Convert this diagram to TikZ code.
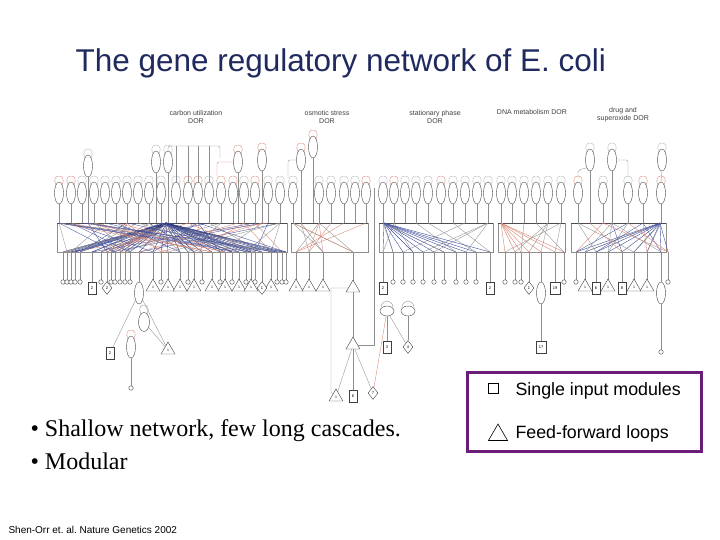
\documentclass[tikz,border=0pt]{standalone}
\usepackage{fontspec}
\setmainfont{Liberation Sans}
\newfontfamily\timesfont{Liberation Serif}
\usetikzlibrary{positioning, shapes.geometric, calc}
\definecolor{netGray}{HTML}{8E8E8E}
\definecolor{netRed}{HTML}{D9826E}
\definecolor{netBlue}{HTML}{404E9E}
\definecolor{keyPurple}{HTML}{6A1C78}
\definecolor{titleNavy}{HTML}{202A5E}
\colorlet{wc0}{netGray}
\colorlet{wc1}{netRed}
\colorlet{wc2}{netBlue}
\colorlet{lc0}{netGray!70}
\colorlet{lc1}{netGray!70}
\colorlet{lc2}{netRed}
% top genes and targets of each module
\def\cuTop{59,71,82,94,105,116,127,138,149,161,176,188,198,209,221,233,244,255,268,280}
\def\cuTopA{{59,71,82,94,105,116,127,138,149,161,176,188,198,209,221,233,244,255,268,280,88,156,168,238,262}}
\def\cuBot{63,67,71,75,80,92,101,107,111,115,120,125,130,139,153,161,168,180,188,194,202,212,220,225,232,239,246,251,255,262,271,277,282,286}
\def\osTop{293,319,331,344,355,366}
\def\osTopA{{293,301,313,319,331,344,355,366}}
\def\osBot{296,309,323,353}
\def\stTop{383,394,405,416,428,441,453,465,477,488}
\def\stTopA{{383,394,405,416,428,441,453,465,477,488}}
\def\stBot{383,393,403,413,423,434,444,456,466,476,490}
\def\dnTop{501,512,524,536,548,561}
\def\dnTopA{{501,512,524,536,548,561}}
\def\dnBot{505,515,521,529,541,555,564}
\def\drTop{578,603,628,643,661}
\def\drTopA{{578,590,603,612,628,643,661}}
\def\drBot{576,585,596,608,622,634,647,661,668}
\edef\allTop{\cuTop,\osTop,\stTop,\dnTop,\drTop}
\edef\allBot{\cuBot,\osBot,\stBot,\dnBot,\drBot}
\newcommand{\selfloop}[3]{\draw[line width=0.35pt, #3] (#1-3,#2-8) .. controls (#1-9,#2-20) and (#1+9,#2-20) .. (#1+3,#2-8);}

\begin{document}
\frenchspacing
\begin{tikzpicture}[x=1pt, y=-1pt,
  wire/.style={netGray, line width=0.35pt},
  hub/.style={line width=0.4pt},
  dorbox/.style={draw=netGray, line width=0.5pt},
  gene/.style={draw=black!75, ellipse, fill=white, inner sep=0pt, line width=0.4pt, minimum width=9pt, minimum height=22pt},
  dot/.style={draw=black!75, circle, fill=white, inner sep=0pt, line width=0.4pt, minimum size=4.5pt},
  ffl/.style={draw=black!75, regular polygon, regular polygon sides=3, fill=white, inner sep=0pt, line width=0.4pt, minimum size=16pt, font=\fontsize{3.5}{4}\selectfont},
  sim/.style={draw=black!75, rectangle, fill=white, inner sep=0pt, line width=0.4pt, minimum width=8pt, minimum height=12pt, font=\fontsize{4}{5}\selectfont},
  bif/.style={draw=black!75, diamond, fill=white, inner sep=0pt, line width=0.4pt, minimum width=10pt, minimum height=13pt, font=\fontsize{4}{5}\selectfont},
  hdr/.style={font=\fontsize{7}{8}\selectfont, text=black!75, align=center}
]
\useasboundingbox (0,0) rectangle (720,540);
\pgfmathsetseed{7}

% title
\node[anchor=base west, font=\fontsize{31.5}{36}\selectfont, text=titleNavy] (title) at (72,72) {The gene regulatory network of E. coli};

% module headers
\node[hdr] (hCarbon) at (196,117) {carbon utilization\\DOR};
\node[hdr] (hOsmo) at (327,117) {osmotic stress\\DOR};
\node[hdr] (hStat) at (435,117) {stationary phase\\DOR};
\node[hdr] (hDna) at (532,112) {DNA metabolism DOR};
\node[hdr] (hDrug) at (623,115) {drug and\\superoxide DOR};

% DOR boxes
\foreach \xa/\xb in {57/287,291/368,379/493,498/565,571/666} {
  \draw[dorbox] (\xa,223) rectangle (\xb,252);
  \draw[black!70, line width=0.5pt] (\xa,223) -- (\xb,223);
}

% wiring inside the boxes
\foreach \b in \cuBot {
  \draw[hub, netBlue!80!black] (166,223) -- (\b,252);
  \foreach \k in {1,2} {
    \pgfmathrandominteger{\ri}{0}{24}
    \pgfmathrandominteger{\ci}{0}{2}
    \pgfmathsetmacro{\tx}{\cuTopA[\ri]}
    \draw[wire, wc\ci] (\tx,223) -- (\b,252);
  }
}
\foreach \b in \osBot {
  \foreach \k in {1,2,3} {
    \pgfmathrandominteger{\ri}{0}{7}
    \pgfmathrandominteger{\ci}{0}{1}
    \pgfmathsetmacro{\tx}{\osTopA[\ri]}
    \draw[wire, wc\ci] (\tx,223) -- (\b,252);
  }
}
\foreach \b in \stBot {
  \draw[hub, netBlue] (384,223) -- (\b,252);
  \pgfmathrandominteger{\ri}{0}{9}
  \pgfmathsetmacro{\tx}{\stTopA[\ri]}
  \draw[wire] (\tx,223) -- (\b,252);
}
\foreach \b in \dnBot {
  \draw[hub, netRed] (501,223) -- (\b,252);
  \pgfmathrandominteger{\ri}{0}{5}
  \pgfmathsetmacro{\tx}{\dnTopA[\ri]}
  \draw[wire] (\tx,223) -- (\b,252);
}
\foreach \b in \drBot {
  \draw[hub, netBlue] (660,223) -- (\b,252);
  \foreach \k in {1,2} {
    \pgfmathrandominteger{\ri}{0}{6}
    \pgfmathrandominteger{\ci}{0}{2}
    \pgfmathsetmacro{\tx}{\drTopA[\ri]}
    \draw[wire, wc\ci] (\tx,223) -- (\b,252);
  }
}

% regulators on top
\foreach \x in \allTop {
  \pgfmathrandominteger{\ci}{0}{2}
  \draw[wire] (\x,204) -- (\x,223);
  \node[gene] (g\x) at (\x,193) {};
  \selfloop{\x}{193}{lc\ci}
}
\foreach \x/\y in {88/166,156/162,168/162,238/162,262/160,301/160,313/147,590/160,612/160,662/160} {
  \pgfmathrandominteger{\ci}{0}{2}
  \node[gene] (g\x) at (\x,\y) {};
  \selfloop{\x}{\y}{lc\ci}
}
\foreach \x in {88,156,168,238,262,301,313,590,612}
  \draw[wire] (g\x.south) -- (\x,223);
\draw[wire, rounded corners=2pt] (g168.north) -- (168,146) -- (220,146) -- (220,158);
\foreach \x in {176,188,198,209}
  \draw[wire] (\x,146) -- (g\x.north);
\draw[wire, netRed, rounded corners=2pt] (g238.west) -- (217,162) -- (217,176);
\draw[wire, rounded corners=2pt] (g301.west) -- (288,160) -- (288,178);
\draw[wire, rounded corners=2pt] (g590.south west) -- (578,170) -- (578,178);
\draw[wire, rounded corners=2pt] (g612.east) -- (628,160) -- (628,178);
\draw[wire] (g662.south) -- (g661.north);

% targets below the boxes
\foreach \b in \allBot
  \draw[wire] (\b,252) -- (\b,282);
\foreach \x in {63,67,71,75,80,101,111,115,120,125,130,161,188,202,220,232,246,255,277,282,286,393,403,413,423,434,444,456,466,476,505,515,521,564,576,668}
  \node[dot] (t\x) at (\x,282) {};
\foreach \x in {153,168,180,194,212,225,239,251,271,296,309,323,585,608,634,647}
  \node[ffl] (t\x) at (\x,287) {1};
\foreach \x/\l in {92/2,383/2,490/2,596/6,622/8}
  \node[sim] (t\x) at (\x,288) {\l};
\node[sim, minimum width=10pt] (t555) at (555,288) {19};
\foreach \x/\l in {107/2,262/1,529/1}
  \node[bif] (t\x) at (\x,288) {\l};

% carbon cascade
\node[gene] (cuL1) at (139,293) {};
\node[sim] (cuL2) at (110,353) {2};
\node[ffl] (cuL3) at (168,350) {1};
\node[gene, minimum width=11pt, minimum height=19pt] (cuL4) at (144,322) {};
\node[gene] (cuL5) at (131,347) {};
\node[dot] (cuL6) at (131,388) {};
\draw[wire] (cuL1) -- (cuL2);
\draw[wire] (cuL1) -- (cuL3);
\draw[wire] (cuL4) -- (cuL3);
\draw[wire] (cuL5) -- (cuL6);
\selfloop{144}{322}{netGray}
\selfloop{131}{347}{netRed}

% osmotic cascade
\node[ffl] (osF) at (353,288) {};
\node[ffl] (osL1) at (353,345) {};
\node[ffl] (osL2) at (336,397) {1};
\node[sim] (osL3) at (353,396) {6};
\node[bif] (osL4) at (373,393) {7};
\draw[netGray, line width=1pt] (osF) -- (osL1);
\draw[wire] (osL1) -- (osL2);
\draw[wire] (osL1) -- (osL3);
\draw[wire] (osL1) -- (osL4);
\draw[wire] (osF.west) -| (331,392) -- (osL2);
\draw[wire] (374,188) |- (osL1.east);

% stationary phase cascade
\node[gene, minimum width=14pt, minimum height=10pt] (stL1) at (387,311) {};
\node[gene, minimum width=14pt, minimum height=10pt] (stL2) at (408,311) {};
\node[sim] (stL3) at (387,347) {3};
\node[bif] (stL4) at (408,347) {4};
\draw[wire] (stL1) -- (stL3);
\draw[wire] (stL1) -- (stL4);
\draw[wire] (stL2) -- (stL4);
\draw[wire, netRed] (stL1) -- (osL4);
\draw[wire] (381,307) .. controls (382,299) and (392,299) .. (393,307);
\draw[wire] (402,307) .. controls (403,299) and (413,299) .. (414,307);

% DNA and drug cascades
\node[gene] (dnL1) at (541,293) {};
\node[sim, minimum width=10pt] (dnL2) at (541,347) {17};
\draw[wire] (dnL1) -- (dnL2);
\node[gene] (drL1) at (661,293) {};
\node[dot] (drL2) at (661,352) {};
\draw[wire] (drL1) -- (drL2);

% legend
\node[draw=keyPurple, line width=3pt, minimum width=234pt, minimum height=79pt] (legend) at (584,411.5) {};
\node[draw, minimum size=10pt, inner sep=0pt, line width=0.6pt] (simKey) at (493,388) {};
\node[anchor=base west, font=\fontsize{17.8}{20}\selectfont] (simTxt) at (512,395) {Single input modules};
\node[draw, regular polygon, regular polygon sides=3, minimum size=22pt, inner sep=0pt, line width=0.6pt] (fflKey) at (498,435) {};
\node[anchor=base west, font=\fontsize{17.8}{20}\selectfont] (fflTxt) at (512,438) {Feed-forward loops};

% bullets and source
\node[anchor=base west, font=\timesfont\fontsize{24}{28}\selectfont] (bul1) at (27,436) {• Shallow network, few long cascades.};
\node[anchor=base west, font=\timesfont\fontsize{24}{28}\selectfont] (bul2) at (27,469) {• Modular};
\node[anchor=base west, font=\fontsize{10}{12}\selectfont] (cite) at (5,533) {Shen-Orr et. al. Nature Genetics 2002};
\end{tikzpicture}
\end{document}
